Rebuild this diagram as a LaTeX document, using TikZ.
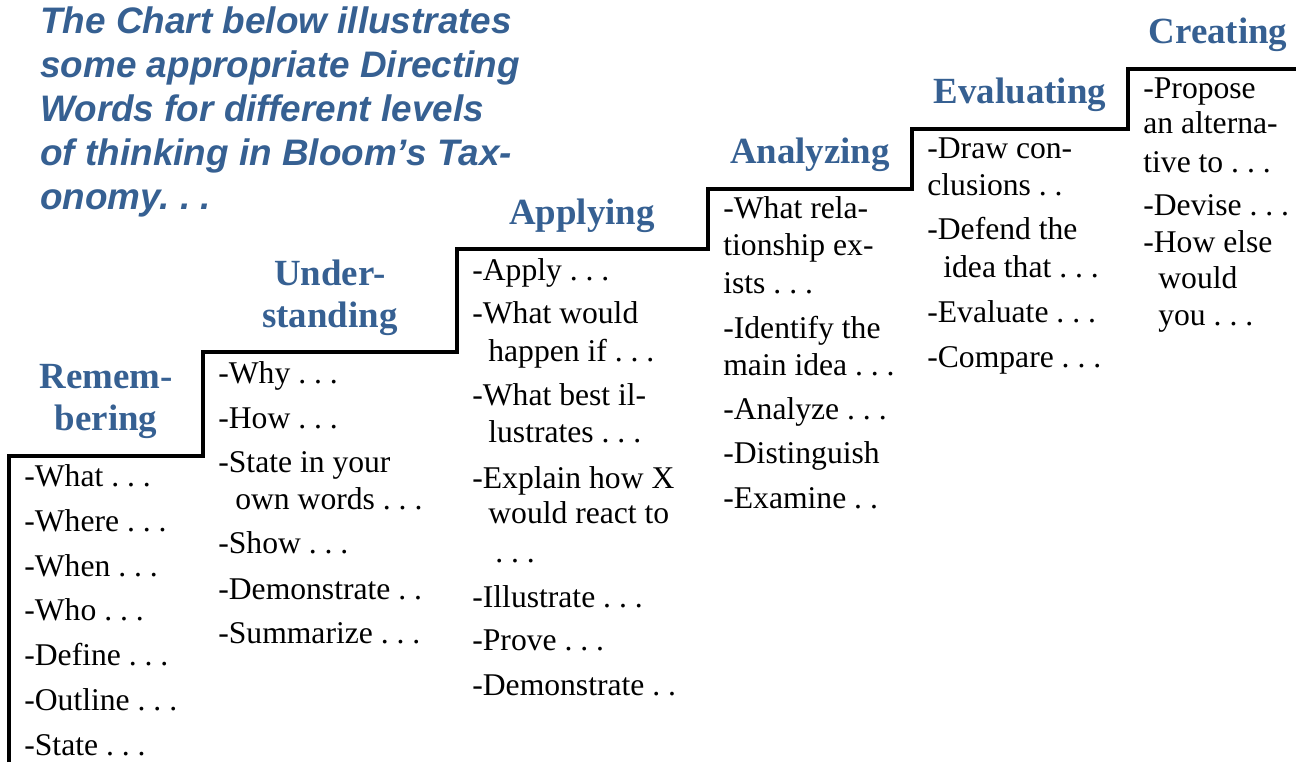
\documentclass[tikz,border=0pt]{standalone}
\usepackage{fontspec}
\setmainfont{Liberation Serif}
\newfontfamily\introfont{Liberation Sans}
\definecolor{bloomblue}{RGB}{54,96,146}
\frenchspacing

\begin{document}
\begin{tikzpicture}[x=0.02cm, y=-0.02cm,
  word/.style={anchor=base west, inner sep=0pt, font=\fontsize{18}{21}\selectfont},
  heading/.style={anchor=base, inner sep=0pt, text=bloomblue, font=\fontsize{21}{25}\selectfont\bfseries},
  intro/.style={anchor=base west, inner sep=0pt, text=bloomblue, font=\introfont\fontsize{21}{25}\selectfont\bfseries\itshape}]
\useasboundingbox (0,0) rectangle (1296,762);

% intro text
\foreach \y/\t [count=\i] in {33/The Chart below illustrates, 77/some appropriate Directing,
    121/Words for different levels, 165/of thinking in Bloom’s Tax-}
  \node[intro] (intro\i) at (40,\y) {\t};
\node[intro] (intro5) at (40,209) {onomy. . .};

% the stairs
\draw[line width=1.8pt] (9,762) -- (9,456) -- (203,456) -- (203,352) -- (457,352) -- (457,249)
  -- (708,249) -- (708,189) -- (912,189) -- (912,129) -- (1128,129) -- (1128,69) -- (1296,69);

% headings
\node[heading] (remhead1) at (106,388) {Remem-};
\node[heading] (remhead2) at (106,430) {bering};
\node[heading] (undhead1) at (330,285) {Under-};
\node[heading] (undhead2) at (330,327) {standing};
\node[heading] (apphead) at (582,224) {Applying};
\node[heading] (anahead) at (810,163) {Analyzing};
\node[heading] (evahead) at (1020,103) {Evaluating};
\node[heading] (crehead) at (1218,43) {Creating};

% Remembering
\foreach \x/\y/\t [count=\i] in {24/486/-What . . ., 24/531/-Where . . ., 24/576/-When . . .,
    24/620/-Who . . ., 24/665/-Define . . ., 24/710/-Outline . . ., 24/755/-State . . .}
  \node[word] (rem\i) at (\x,\y) {\t};

% Understanding
\foreach \x/\y/\t [count=\i] in {218/383/-Why . . ., 218/428/-How . . ., 218/472/-State in your,
    235/509/own words . . ., 218/553/-Show . . ., 218/599/-Demonstrate . ., 218/643/-Summarize . . .}
  \node[word] (und\i) at (\x,\y) {\t};

% Applying
\foreach \x/\y/\t [count=\i] in {472/280/-Apply . . ., 472/323/-What would, 488/361/happen if . . .,
    472/405/-What best il-, 488/442/lustrates . . ., 472/488/-Explain how X, 488/523/would react to,
    495/562/. . ., 472/607/-Illustrate . . ., 472/650/-Prove . . ., 472/695/-Demonstrate . .}
  \node[word] (app\i) at (\x,\y) {\t};

% Analyzing
\foreach \x/\y/\t [count=\i] in {723/218/-What rela-, 723/255/tionship ex-, 723/293/ists . . .,
    723/338/-Identify the, 723/375/main idea . . ., 723/419/-Analyze . . ., 723/463/-Distinguish,
    723/508/-Examine . .}
  \node[word] (ana\i) at (\x,\y) {\t};

% Evaluating
\foreach \x/\y/\t [count=\i] in {927/158/-Draw con-, 927/195/clusions . ., 927/239/-Defend the,
    943/277/idea that . . ., 927/322/-Evaluate . . ., 927/367/-Compare . . .}
  \node[word] (eva\i) at (\x,\y) {\t};

% Creating
\foreach \x/\y/\t [count=\i] in {1143/98/-Propose, 1143/133/an alterna-, 1143/172/tive to . . .,
    1143/215/-Devise . . ., 1143/252/-How else, 1158/288/would, 1158/325/you . . .}
  \node[word] (cre\i) at (\x,\y) {\t};

\end{tikzpicture}
\end{document}
